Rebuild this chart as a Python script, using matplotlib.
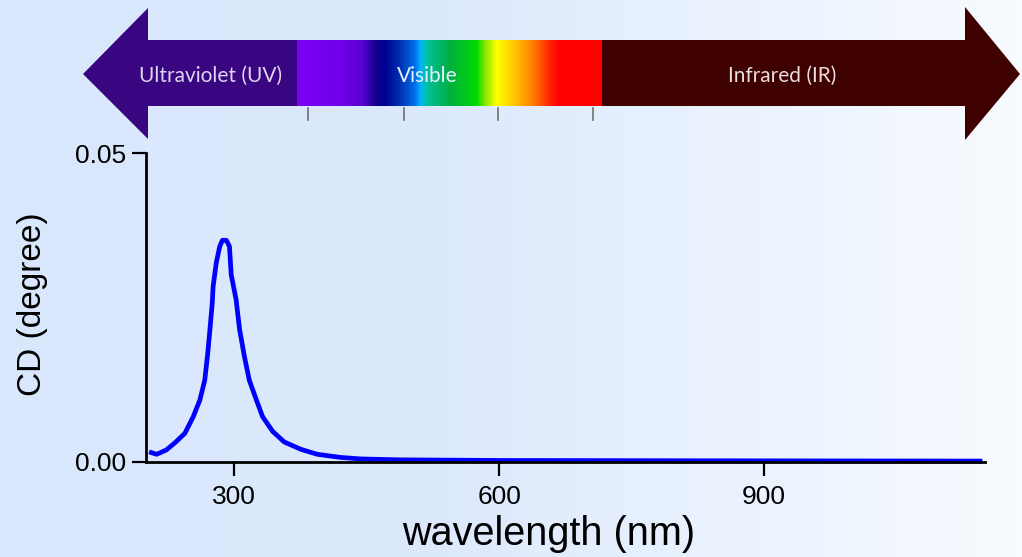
import numpy as np
import matplotlib.pyplot as plt
from matplotlib.colors import LinearSegmentedColormap
from matplotlib.patches import Polygon

# CD spectrum (wavelength in nm, CD in degree)
wavelength = [203.5, 212, 223, 233, 244, 253.5, 261, 266.5, 269.5, 272, 275, 276,
              279.5, 283.5, 286.5, 291, 294.5, 296.5, 302, 306, 311.5, 317, 325,
              332, 343.5, 356.5, 375.5, 394, 420, 443, 488, 601, 826, 1147]
cd = [0.0016, 0.0012, 0.0019, 0.0031, 0.0046, 0.0073, 0.0100, 0.0132, 0.0170,
      0.0208, 0.0257, 0.0284, 0.0322, 0.0349, 0.0359, 0.0359, 0.0349, 0.0303,
      0.0263, 0.0214, 0.0170, 0.0132, 0.0100, 0.0073, 0.0049, 0.0032, 0.0020,
      0.0012, 0.0007, 0.00045, 0.0003, 0.0002, 0.00015, 0.0001]

x_ticks = [300, 600, 900]
y_ticks = [0.00, 0.05]
band_labels = ['Ultraviolet (UV)', 'Visible', 'Infrared (IR)']

W, H = 1022, 557
fig = plt.figure(figsize=(W / 100, H / 100), dpi=100)

# light blue background fading to white on the right
bg = fig.add_axes([0, 0, 1, 1], zorder=0)
bg_cmap = LinearSegmentedColormap.from_list(
    'bg', [(0, '#d9e7fc'), (0.42, '#dce9fc'), (1, '#f8fbff')])
bg.imshow(np.linspace(0, 1, 256)[None, :], cmap=bg_cmap, aspect='auto',
          extent=[0, 1, 0, 1])
bg.set_axis_off()

# spectrum arrow drawn in pixel coordinates
ov = fig.add_axes([0, 0, 1, 1], zorder=1)
ov.set_axis_off()
ov.patch.set_alpha(0)

uv = Polygon([(83, 74), (148, 8), (148, 40), (298, 40), (298, 106),
              (148, 106), (148, 139)], closed=True, color='#3a0580', lw=0)
ir = Polygon([(601, 40), (965, 40), (965, 7), (1020, 74), (965, 140),
              (965, 106), (601, 106)], closed=True, color='#3f0000', lw=0)
ov.add_patch(uv)
ov.add_patch(ir)

x0, x1 = 297, 602
stops = [(297, '#7d00f5'), (340, '#7000ea'), (362, '#5a00d0'), (376, '#12008c'),
         (385, '#000090'), (402, '#0038b8'), (415, '#0070e8'), (421, '#00b8ff'),
         (426, '#00c0a0'), (450, '#00b040'), (477, '#00dc00'), (486, '#90e800'),
         (497, '#ffff00'), (512, '#ffd000'), (533, '#ff8000'), (552, '#ff1800'),
         (560, '#ff0000'), (602, '#ff0000')]
spec_cmap = LinearSegmentedColormap.from_list(
    'spec', [((p - x0) / (x1 - x0), c) for p, c in stops])
ov.imshow(np.linspace(0, 1, 512)[None, :], cmap=spec_cmap, aspect='auto',
          extent=[x0, x1, 106, 40], zorder=2)
ov.set_xlim(0, W)
ov.set_ylim(H, 0)

for tx in [308, 404, 498, 593]:
    ov.plot([tx, tx], [108, 120], color='#707070', lw=1.2, zorder=3)

ov.text(211, 82, band_labels[0], color='#ddd4f2', fontsize=15,
        family='Lato', ha='center', va='baseline', zorder=4)
ov.text(427, 82, band_labels[1], color='#e8f0ff', fontsize=15,
        family='Lato', ha='center', va='baseline', zorder=4)
ov.text(782, 82, band_labels[2], color='#eadcdc', fontsize=15,
        family='Lato', ha='center', va='baseline', zorder=4)

# main plot
ax = fig.add_axes([146 / W, 1 - 461.7 / H, (985 - 146) / W, (461.7 - 153.3) / H],
                  zorder=5)
ax.patch.set_alpha(0)
ax.plot(wavelength, cd, color='#0000ff', lw=3.4, solid_capstyle='butt',
        solid_joinstyle='round', clip_on=False)
ax.set_xlim(200, 1150)
ax.set_ylim(0, 0.05)
ax.set_xticks(x_ticks)
ax.set_yticks(y_ticks)
ax.set_yticklabels(['%.2f' % v for v in y_ticks])
for s in ['top', 'right']:
    ax.spines[s].set_visible(False)
for s in ['left', 'bottom']:
    ax.spines[s].set_linewidth(2)
ax.tick_params(direction='out', length=10, width=1.6, labelsize=19,
               labelfontfamily='Liberation Sans')
ax.tick_params(axis='x', pad=7)
ax.tick_params(axis='y', pad=4)
ax.set_ylabel('CD (degree)', fontsize=24, family='Liberation Sans')
ax.yaxis.set_label_coords(-0.117, 0.51)

fig.text(549 / W, 1 - 545 / H, 'wavelength (nm)', fontsize=28.5,
         family='Liberation Sans', ha='center', va='baseline', zorder=6)

fig.savefig('out.png', dpi=100)
